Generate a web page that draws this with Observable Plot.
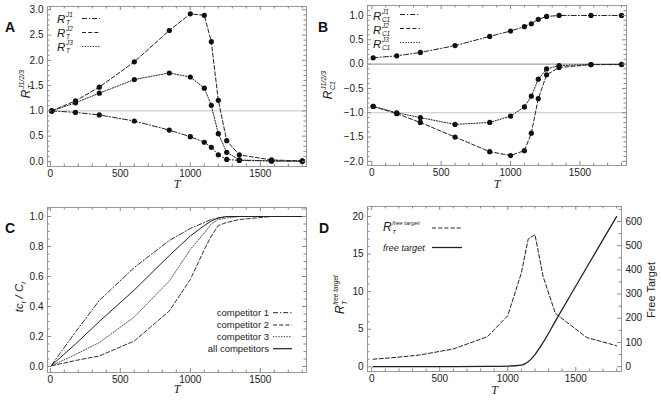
<!DOCTYPE html>
<html><head><meta charset="utf-8">
<script src="https://cdn.jsdelivr.net/npm/d3@7"></script>
<script src="https://cdn.jsdelivr.net/npm/@observablehq/plot@0.6"></script>
<style>
body{margin:0;background:#fff;}
#fig{position:relative;width:661px;height:402px;overflow:hidden;background:#fff;font-family:"Liberation Sans",Arial,sans-serif;}
#fig svg{position:absolute;overflow:visible;}
</style></head><body><div id="fig"></div><script>
// ---- data ----
const T = [10, 180, 350, 600, 850, 1000, 1100, 1150, 1200, 1260, 1350, 1580, 1800];
// panel A: R_T^J1, R_T^J2, R_T^J3
const rTJ1 = [1.0, 0.97, 0.92, 0.80, 0.62, 0.49, 0.38, 0.28, 0.13, 0.04, 0.02, 0.01, 0.005];
const rTJ2 = [1.0, 1.20, 1.47, 1.97, 2.59, 2.92, 2.89, 2.37, 1.21, 0.41, 0.13, 0.03, 0.01];
const rTJ3 = [1.0, 1.16, 1.35, 1.62, 1.75, 1.67, 1.45, 1.11, 0.55, 0.18, 0.03, 0.01, 0.005];
// panel B: R_C1^J1, R_C1^J2, R_C1^J3
const rCJ1 = [0.13, 0.17, 0.24, 0.38, 0.57, 0.68, 0.77, 0.83, 0.92, 0.98, 1.0, 1.0, 1.0];
const rCJ2 = [-0.87, -1.02, -1.20, -1.50, -1.80, -1.88, -1.78, -1.42, -0.71, -0.22, -0.07, -0.01, -0.01];
const rCJ3 = [-0.87, -1.00, -1.10, -1.24, -1.20, -1.07, -0.88, -0.66, -0.31, -0.10, -0.03, -0.01, -0.005];
// panel C: tc_i / C_i
const comp1 = [0.01, 0.23, 0.44, 0.66, 0.84, 0.92, 0.96, 0.98, 0.99, 1.0, 1.0, 1.0, 1.0];
const comp2 = [0.005, 0.04, 0.07, 0.17, 0.37, 0.58, 0.78, 0.87, 0.94, 0.96, 0.98, 1.0, 1.0];
const comp3 = [0.005, 0.08, 0.16, 0.33, 0.57, 0.78, 0.89, 0.95, 0.98, 0.99, 1.0, 1.0, 1.0];
const compAll = [0.008, 0.15, 0.30, 0.51, 0.74, 0.87, 0.94, 0.97, 0.99, 1.0, 1.0, 1.0, 1.0];
// panel D
const rFree = [1.0, 1.25, 1.56, 2.37, 4.0, 6.8, 12.5, 17.0, 17.6, 12.0, 7.1, 3.9, 2.8];
const ftT = [10, 180, 350, 600, 850, 1000, 1100, 1150, 1200, 1260, 1350, 1450, 1580, 1700, 1800];
const ftV = [0, 0, 0, 0.5, 1, 2, 6, 20, 50, 100, 188, 285, 410, 525, 620];
// ticks
const xTicks = [0, 500, 1000, 1500];
const aTicks = [0, 0.5, 1.0, 1.5, 2.0, 2.5, 3.0];
const bTicks = [-2.0, -1.5, -1.0, -0.5, 0.0, 0.5, 1.0];
const cTicks = [0, 0.2, 0.4, 0.6, 0.8, 1.0];
const dTicksL = [0, 5, 10, 15, 20];
const dTicksR = [0, 100, 200, 300, 400, 500, 600];
const legA = ["J1", "J2", "J3"];
const legC = ["competitor 1", "competitor 2", "competitor 3", "all competitors"];

// ---- styles ----
const DASHDOT = "5,2,1.2,2", DASHED = "4,2.2", DOTTED = "1.2,1.5";
const INK = "#222", FRAME = "#999", TICK = "#888";
const fig = document.getElementById("fig");
const tbl = (xs, ys) => xs.map((t, i) => ({T: t, v: ys[i]}));
const baseStyle = {fontFamily: "Liberation Sans, Arial, sans-serif", fontSize: "10px", color: "#1a1a1a", background: "transparent", overflow: "visible"};
const fmtX = d3.format("d");

function inDom(vals, dom) { return vals.filter(v => v >= Math.min(...dom) && v <= Math.max(...dom)); }
function frameTicks({W, H, m, xDom, yDom, xMaj, xMin, yMaj, yMin, left = true, right = true}) {
  const iw = W - m[1] - m[3], ih = H - m[0] - m[2];
  const out = [];
  const xM = inDom(xMaj, xDom), xm = inDom(xMin, xDom).filter(v => !xMaj.includes(v));
  for (const [vals, L] of [[xM, 4], [xm, 2.5]]) {
    if (!vals.length) continue;
    out.push(Plot.tickX(vals, {x: d => d, stroke: TICK, insetTop: ih - L}));
    out.push(Plot.tickX(vals, {x: d => d, stroke: TICK, insetBottom: ih - L}));
  }
  const yM = inDom(yMaj, yDom), ym = inDom(yMin, yDom).filter(v => !yMaj.some(q => Math.abs(q - v) < 1e-9));
  for (const [vals, L] of [[yM, 4], [ym, 2.5]]) {
    if (left) out.push(Plot.tickY(vals, {y: d => d, stroke: TICK, insetRight: iw - L}));
    if (right) out.push(Plot.tickY(vals, {y: d => d, stroke: TICK, insetLeft: iw - L}));
  }
  return out;
}
function place(svg, left, top) {
  svg.style.left = left + "px"; svg.style.top = top + "px";
  fig.appendChild(svg); return svg;
}
function txt(g, x, y, s, fs, italic = true) {
  return g.append("text").attr("x", x).attr("y", y).attr("font-size", fs).attr("text-anchor", "start")
    .attr("font-style", italic ? "italic" : "normal").attr("fill", "#1a1a1a").text(s);
}
function sym(g, x, y, main, sub, sup, fs, sfs) {
  const m = txt(g, x, y, main, fs);
  const w = m.node().getComputedTextLength();
  if (sub) txt(g, x + w + 0.6, y + fs * 0.22, sub, sfs);
  if (sup) txt(g, x + w + 0.6, y - fs * 0.5, sup, sfs);
}
function rotLabel(svg, cx, cy, draw) {
  const g = d3.select(svg).append("g").attr("transform", `translate(${cx},${cy}) rotate(-90)`);
  const inner = g.append("g");
  draw(inner);
  const bb = inner.node().getBBox();
  inner.attr("transform", `translate(${-(bb.x + bb.width / 2)},${-(bb.y + bb.height / 2)})`);
}
function letter(svg, x, y, s) {
  d3.select(svg).append("text").attr("x", x).attr("y", y).attr("text-anchor", "start").attr("font-size", 14).attr("font-weight", "bold").attr("fill", "#111").text(s);
}
function swatch(svg, x1, x2, y, dash, w = 1) {
  d3.select(svg).append("line").attr("x1", x1).attr("x2", x2).attr("y1", y).attr("y2", y)
    .attr("stroke", INK).attr("stroke-width", w).attr("stroke-dasharray", dash);
}
const xMinor = d3.range(-100, 1901, 100);
const Tlabel = (dy) => Plot.text(["T"], {text: d => d, frameAnchor: "bottom", dy, fontStyle: "italic", fontFamily: "Liberation Serif, serif", fontSize: 12});
const axX = () => Plot.axisX({ticks: xTicks, tickSize: 0, tickPadding: 3, label: null, tickFormat: fmtX});

// ---- Panel A ----
{
  const W = 330, H = 200, m = [6, 24, 34, 47];
  const xDom = [-20, 1830], yDom = [-0.1, 3.065];
  const S = [[rTJ1, DASHDOT], [rTJ2, DASHED], [rTJ3, DOTTED]];
  const svg = Plot.plot({
    width: W, height: H, marginTop: m[0], marginRight: m[1], marginBottom: m[2], marginLeft: m[3],
    x: {domain: xDom}, y: {domain: yDom}, style: baseStyle,
    marks: [
      Plot.ruleY([1], {stroke: "#c8c8c8"}),
      ...S.map(([v, d]) => Plot.line(tbl(T, v), {x: "T", y: "v", stroke: INK, strokeWidth: 1, strokeDasharray: d})),
      ...S.map(([v]) => Plot.dot(tbl(T, v), {x: "T", y: "v", r: 2.6, fill: "#111"})),
      Plot.frame({stroke: FRAME}),
      ...frameTicks({W, H, m, xDom, yDom, xMaj: xTicks, xMin: xMinor, yMaj: aTicks, yMin: d3.range(-0.1, 3.1, 0.1).map(v => +v.toFixed(2))}),
      axX(),
      Plot.axisY({ticks: aTicks, tickSize: 0, tickPadding: 4, label: null, tickFormat: d3.format(".1f")}),
      Tlabel(21)
    ]
  });
  place(svg, 0, 0);
  const g = d3.select(svg);
  const rows = [22.5, 36.5, 50.5];
  S.forEach(([, d], i) => { sym(g, 57, rows[i], "R", "T", legA[i], 11.5, 6.5); swatch(svg, 82, 100, rows[i] - 4, d); });
  rotLabel(svg, 26, 84, gg => sym(gg, 0, 0, "R", "T", "J1/2/3", 12, 7));
  letter(svg, 5, 32, "A");
}

// ---- Panel B ----
{
  const W = 331, H = 200, m = [5, 35, 35, 37];
  const xDom = [-31, 1836], yDom = [-2.085, 1.205];
  const S = [[rCJ1, DASHDOT], [rCJ2, DASHED], [rCJ3, DOTTED]];
  const svg = Plot.plot({
    width: W, height: H, marginTop: m[0], marginRight: m[1], marginBottom: m[2], marginLeft: m[3],
    x: {domain: xDom}, y: {domain: yDom}, style: baseStyle,
    marks: [
      Plot.ruleY([-1], {stroke: "#c8c8c8"}),
      Plot.ruleY([0], {stroke: "#8a8a8a"}),
      ...S.map(([v, d]) => Plot.line(tbl(T, v), {x: "T", y: "v", stroke: INK, strokeWidth: 1, strokeDasharray: d})),
      ...S.map(([v]) => Plot.dot(tbl(T, v), {x: "T", y: "v", r: 2.6, fill: "#111"})),
      Plot.frame({stroke: FRAME}),
      ...frameTicks({W, H, m, xDom, yDom, xMaj: xTicks, xMin: xMinor, yMaj: bTicks, yMin: d3.range(-2.1, 1.25, 0.1).map(v => +v.toFixed(2))}),
      axX(),
      Plot.axisY({ticks: bTicks, tickSize: 0, tickPadding: 4, label: null, tickFormat: d3.format(".1f")}),
      Tlabel(22)
    ]
  });
  place(svg, 330, 0);
  const g = d3.select(svg);
  const rows = [19.5, 33.5, 47.5];
  S.forEach(([, d], i) => { sym(g, 43, rows[i], "R", "C1", legA[i], 11.5, 6.5); swatch(svg, 70, 90, rows[i] - 5, d); });
  rotLabel(svg, -2, 85, gg => sym(gg, 0, 0, "R", "C1", "J1/2/3", 12, 7));
  letter(svg, -12, 32, "B");
}

// ---- Panel C ----
{
  const W = 330, H = 202, m = [7, 24, 30, 47];
  const xDom = [-20, 1830], yDom = [-0.04, 1.06];
  const S = [[comp1, DASHDOT, "#333"], [comp2, DASHED, "#333"], [comp3, DOTTED, "#555"], [compAll, null, "#222"]];
  const svg = Plot.plot({
    width: W, height: H, marginTop: m[0], marginRight: m[1], marginBottom: m[2], marginLeft: m[3],
    x: {domain: xDom}, y: {domain: yDom}, style: baseStyle,
    marks: [
      ...S.map(([v, d, c]) => Plot.line(tbl(T, v), {x: "T", y: "v", stroke: c, strokeWidth: 1, strokeDasharray: d})),
      Plot.frame({stroke: FRAME}),
      ...frameTicks({W, H, m, xDom, yDom, xMaj: xTicks, xMin: xMinor, yMaj: cTicks, yMin: d3.range(0, 1.06, 0.05).map(v => +v.toFixed(2))}),
      axX(),
      Plot.axisY({ticks: cTicks, tickSize: 0, tickPadding: 4, label: null, tickFormat: d3.format(".1f")}),
      Tlabel(20)
    ]
  });
  place(svg, 0, 200);
  const g = d3.select(svg);
  const rows = [112.7, 125, 136.7, 148.7];
  S.forEach(([, d], i) => {
    g.append("text").attr("x", 269).attr("y", rows[i]).attr("dy", "0.35em").attr("text-anchor", "end")
      .attr("font-size", 9.5).attr("fill", "#1a1a1a").text(legC[i]);
    swatch(svg, 273, 292, rows[i], d, i === 3 ? 1.2 : 1);
  });
  rotLabel(svg, 20, 97, gg => {
    const t = gg.append("text").attr("text-anchor", "start").attr("font-size", 11.5).attr("font-style", "italic").attr("fill", "#1a1a1a");
    t.append("tspan").text("tc");
    t.append("tspan").attr("font-size", 7).attr("dy", 3).text("i");
    t.append("tspan").attr("dy", -3).text(" / C");
    t.append("tspan").attr("font-size", 7).attr("dy", 3).text("i");
  });
  letter(svg, 5, 33, "C");
}

// ---- Panel D ----
{
  const W = 331, H = 202, m = [6, 40, 31, 37];
  const xDom = [-31, 1836], yDomL = [-0.63, 21.34], yDomR = [-20, 662];
  const svg = Plot.plot({
    width: W, height: H, marginTop: m[0], marginRight: m[1], marginBottom: m[2], marginLeft: m[3],
    x: {domain: xDom}, y: {domain: yDomL}, style: baseStyle,
    marks: [
      Plot.line(tbl(T, rFree), {x: "T", y: "v", stroke: INK, strokeWidth: 1, strokeDasharray: DASHED}),
      Plot.frame({stroke: FRAME}),
      ...frameTicks({W, H, m, xDom, yDom: yDomL, xMaj: xTicks, xMin: xMinor, yMaj: dTicksL, yMin: d3.range(0, 22, 1), right: false}),
      axX(),
      Plot.axisY({ticks: dTicksL, tickSize: 0, tickPadding: 4, label: null}),
      Tlabel(22)
    ]
  });
  place(svg, 330, 200);
  const svg2 = Plot.plot({
    width: W, height: H, marginTop: m[0], marginRight: m[1], marginBottom: m[2], marginLeft: m[3],
    x: {domain: xDom, axis: null}, y: {domain: yDomR, axis: null}, style: baseStyle,
    marks: [
      Plot.line(tbl(ftT, ftV), {x: "T", y: "v", stroke: INK, strokeWidth: 1.3, curve: "monotone-x"}),
      ...frameTicks({W, H, m, xDom: [0, 0], yDom: yDomR, xMaj: [], xMin: [], yMaj: dTicksR, yMin: d3.range(0, 651, 50), left: false}),
      Plot.axisY({ticks: dTicksR, anchor: "right", tickSize: 0, tickPadding: 4, label: null})
    ]
  });
  place(svg2, 330, 200);
  const g = d3.select(svg2);
  sym(g, 53, 31, "R", "T", "free target", 12, 6);
  swatch(svg2, 102, 132, 28, DASHED);
  txt(g, 53, 51, "free target", 9.2);
  swatch(svg2, 102, 132, 47.5, null, 1.3);
  rotLabel(svg2, 10, 94, gg => sym(gg, 0, 0, "R", "T", "free target", 12, 6.5));
  rotLabel(svg2, 321, 90, gg => txt(gg, 0, 0, "Free Target", 11, false));
  letter(svg2, -11, 33, "D");
}
</script></body></html>
